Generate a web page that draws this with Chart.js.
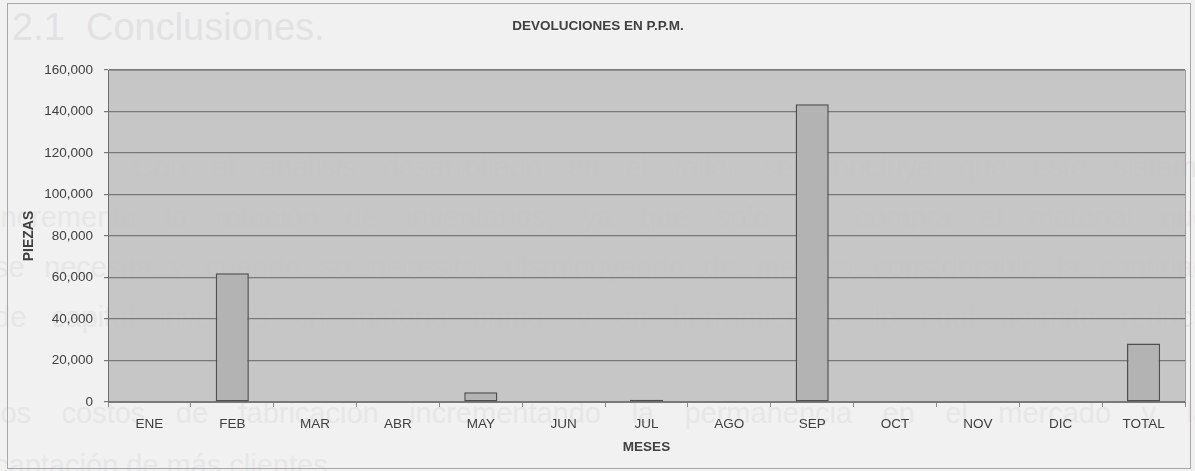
<!DOCTYPE html>
<html lang="es">
<head>
<meta charset="utf-8">
<title>Devoluciones en P.P.M.</title>
<script src="https://cdn.jsdelivr.net/npm/chart.js@4.4.1/dist/chart.umd.min.js"></script>
<style>
  html, body { margin: 0; padding: 0; background: #f1f1f1; overflow: hidden; }
  #page { position: relative; width: 1195px; height: 471px; }
  .ghost { position: absolute; font-family: "Liberation Sans", Arial, sans-serif; color: #e2e2e2; white-space: nowrap; }
  .ghost.h { left: 12px; top: 6px; font-size: 38px; }
  .ghost.p { left: -6px; width: 1215px; font-size: 29px; color: #e7e7e7; text-align: justify; text-align-last: justify; white-space: normal; line-height: 32px; height: 32px; overflow: hidden; }
  canvas { position: absolute; left: 0; top: 0; }
</style>
</head>
<body>
<div id="page">
  <div class="ghost h">2.1&nbsp;&nbsp;Conclusiones.</div>
  <div class="ghost p" style="top:151px;left:133px;width:1080px;">Con el análisis desarrollado en el taller se concluye que este sistema</div>
  <div class="ghost p" style="top:201px;">incrementa la rotación de inventarios, ya que solo se compra el material que</div>
  <div class="ghost p" style="top:251px;">se necesita y cuando se necesita, disminuyendo de manera considerable la cantidad</div>
  <div class="ghost p" style="top:301px;">de capital invertido en materia prima, y en herramientas, lo cual permite reducir</div>
  <div class="ghost p" style="top:397px;">los costos de fabricación incrementando la permanencia en el mercado y la</div>
  <div class="ghost p" style="top:449px;text-align-last:left;">captación de más clientes.</div>
  <canvas id="chart" width="1195" height="471"></canvas>
</div>
<script>
// Returned parts per million, by month, plus the yearly total
const categories = ['ENE', 'FEB', 'MAR', 'ABR', 'MAY', 'JUN', 'JUL', 'AGO', 'SEP', 'OCT', 'NOV', 'DIC', 'TOTAL'];
const devoluciones = [0, 62000, 0, 0, 4700, 0, 1100, 0, 143500, 0, 0, 0, 28200];
const yTickValues = [0, 20000, 40000, 60000, 80000, 100000, 120000, 140000, 160000];

const chartTitle = 'DEVOLUCIONES EN P.P.M.';
const xTitle = 'MESES';
const yTitle = 'PIEZAS';

const FONT = '"Liberation Sans", Arial, sans-serif';
const TEXT = '#404040';

// Page frame, plot background and the chart/axis titles
const decor = {
  id: 'decor',
  beforeDraw(chart) {
    const { ctx, chartArea: a } = chart;
    ctx.save();
    ctx.strokeStyle = '#a8a8a8';
    ctx.lineWidth = 1;
    ctx.strokeRect(7.5, 3.5, 1183, 465);
    ctx.fillStyle = 'rgba(195,195,195,0.95)';
    ctx.fillRect(a.left, a.top, a.right - a.left, a.bottom - a.top);
    ctx.strokeStyle = '#a0a0a0';
    ctx.strokeRect(a.left + 0.5, a.top + 0.5, a.right - a.left, a.bottom - a.top);
    ctx.restore();
  },
  afterDraw(chart) {
    const { ctx, chartArea: a } = chart;
    ctx.save();
    ctx.fillStyle = TEXT;
    ctx.font = 'bold 13.5px ' + FONT;
    ctx.textAlign = 'center';
    ctx.textBaseline = 'middle';
    ctx.fillText(chartTitle, 598, 26);
    ctx.fillText(xTitle, (a.left + a.right) / 2, 447);
    ctx.translate(29, (a.top + a.bottom) / 2);
    ctx.rotate(-Math.PI / 2);
    ctx.font = 'bold 14px ' + FONT;
    ctx.fillText(yTitle, 0, 0);
    ctx.restore();
  }
};

new Chart(document.getElementById('chart'), {
  type: 'bar',
  data: {
    labels: categories,
    datasets: [{
      label: chartTitle,
      data: devoluciones,
      backgroundColor: '#b3b3b3',
      borderColor: '#4e4e4e',
      borderWidth: 1.5,
      borderSkipped: false,
      barPercentage: 0.4,
      categoryPercentage: 1
    }]
  },
  options: {
    responsive: false,
    animation: false,
    events: [],
    layout: { padding: { left: 0, right: 10, top: 70, bottom: 0 } },
    plugins: { legend: { display: false }, title: { display: false }, tooltip: { enabled: false } },
    scales: {
      x: {
        offset: true,
        afterFit(s) { s.height = 69; },
        grid: { drawOnChartArea: false, tickLength: 5, color: '#8a8a8a', offset: true },
        border: { color: '#7a7a7a', width: 1 },
        ticks: { color: TEXT, font: { family: FONT, size: 13.5 }, padding: 9, maxRotation: 0, autoSkip: false }
      },
      y: {
        min: 0,
        max: 160000,
        afterFit(s) { s.width = 108; },
        afterBuildTicks(s) { s.ticks = yTickValues.map(v => ({ value: v })); },
        grid: { color: '#787878', lineWidth: 1.2, tickLength: 4 },
        border: { color: '#6e6e6e', width: 1 },
        ticks: {
          color: TEXT,
          font: { family: FONT, size: 13.5 },
          padding: 11,
          callback: v => v.toLocaleString('en-US')
        }
      }
    }
  },
  plugins: [decor]
});
</script>
</body>
</html>
